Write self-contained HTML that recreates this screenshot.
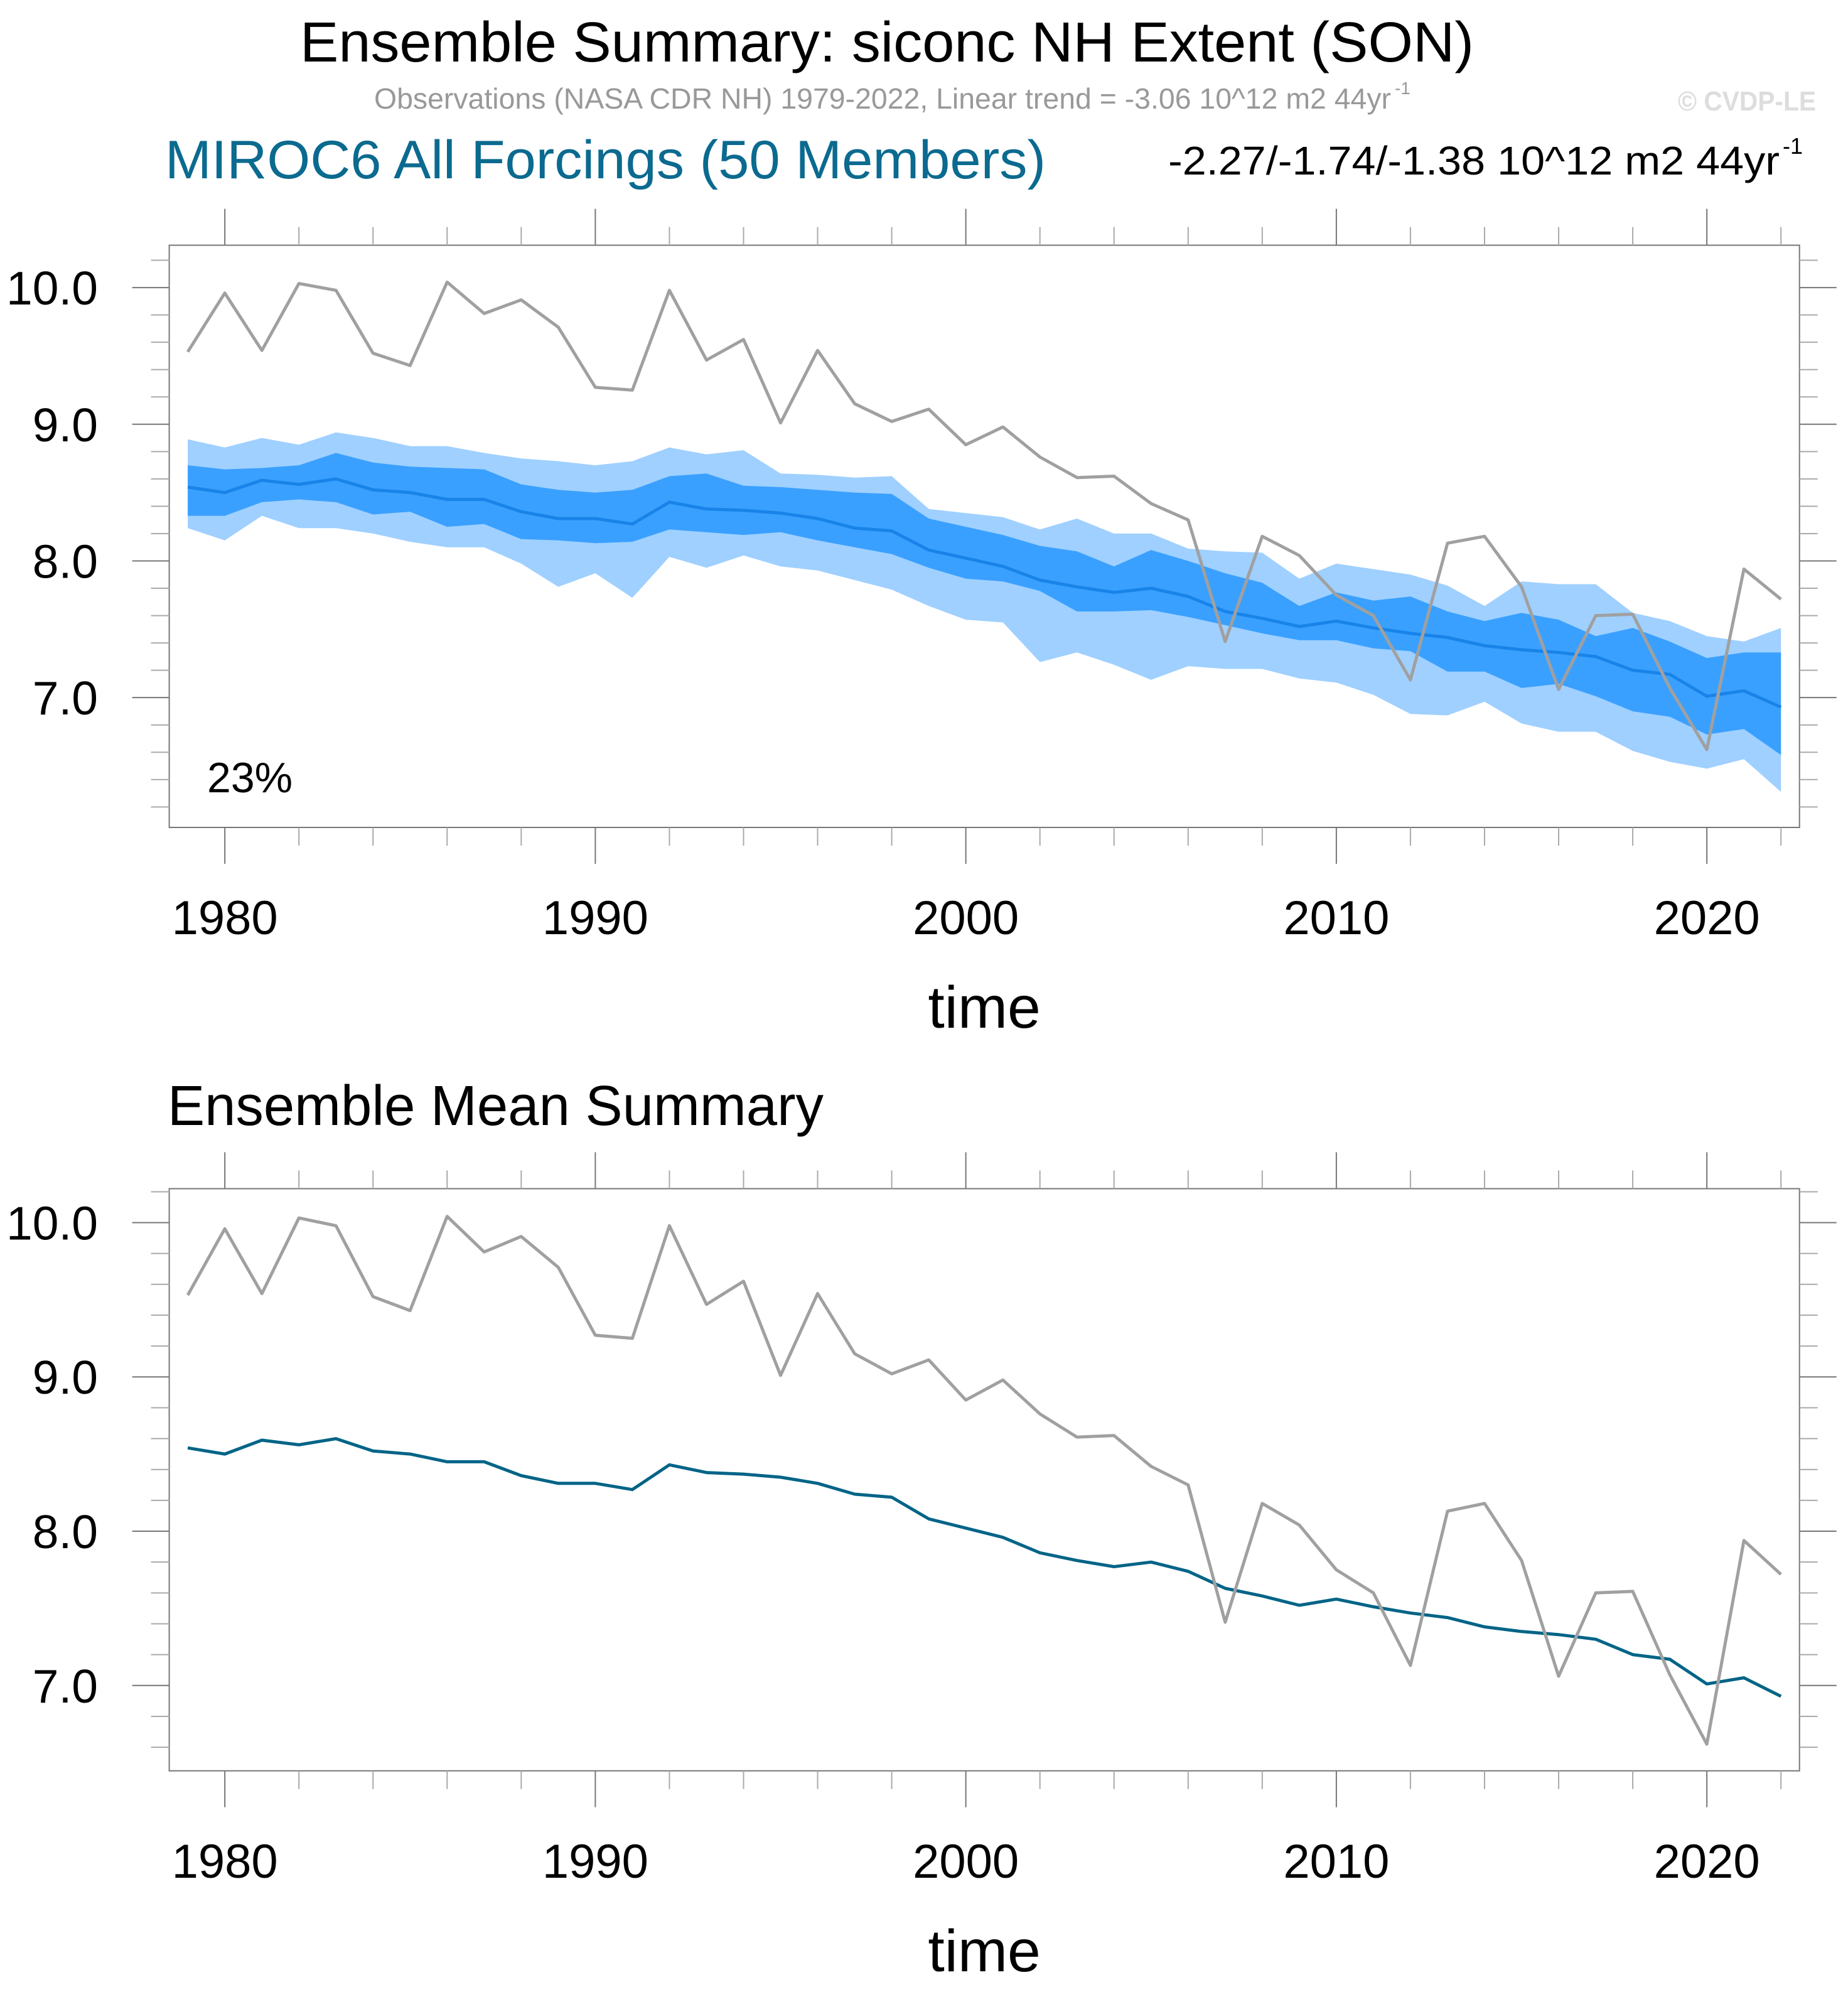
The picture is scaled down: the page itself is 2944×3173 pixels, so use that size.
<!DOCTYPE html>
<html><head><meta charset="utf-8">
<style>
html,body{margin:0;padding:0;background:#fff;}
svg{display:block;font-family:"Liberation Sans",Arial,sans-serif;}
</style></head>
<body>
<svg id="chart" width="2944" height="3173" viewBox="0 0 2944 3173" xmlns="http://www.w3.org/2000/svg">
<rect width="2944" height="3173" fill="#fff"/>
<text x="478" y="98" font-size="90" textLength="1870" lengthAdjust="spacingAndGlyphs">Ensemble Summary: siconc NH Extent (SON)</text>
<text x="596" y="173" font-size="46" fill="#999" textLength="1620" lengthAdjust="spacingAndGlyphs">Observations (NASA CDR NH) 1979-2022, Linear trend = -3.06 10^12 m2 44yr</text>
<text x="2222" y="150" font-size="28" fill="#999">-1</text>
<text x="2673" y="176" font-size="44" font-weight="bold" fill="#ddd" textLength="220" lengthAdjust="spacingAndGlyphs">© CVDP-LE</text>
<text x="263" y="284" font-size="86" fill="#0b6a8f" textLength="1403" lengthAdjust="spacingAndGlyphs">MIROC6 All Forcings (50 Members)</text>
<text x="1861" y="278" font-size="64" textLength="974" lengthAdjust="spacingAndGlyphs">-2.27/-1.74/-1.38 10^12 m2 44yr</text>
<text x="2840" y="245" font-size="36">-1</text>
<text x="267" y="1792" font-size="90" textLength="1045" lengthAdjust="spacingAndGlyphs">Ensemble Mean Summary</text>
<g id="top"></g>
<g id="bottom"></g>
</svg>
<script>
const years = [];
for (let y = 1979; y <= 2022; y++) years.push(y);
const obs = [9.53,9.96,9.54,10.03,9.98,9.52,9.43,10.04,9.81,9.91,9.71,9.27,9.25,9.98,9.47,9.62,9.01,9.54,9.15,9.02,9.11,8.85,8.98,8.76,8.61,8.62,8.42,8.30,7.41,8.18,8.04,7.75,7.60,7.13,8.13,8.18,7.81,7.06,7.60,7.61,7.07,6.62,7.94,7.72];
const ensMean = [8.54,8.50,8.59,8.56,8.60,8.52,8.50,8.45,8.45,8.36,8.31,8.31,8.27,8.43,8.38,8.37,8.35,8.31,8.24,8.22,8.08,8.02,7.96,7.86,7.81,7.77,7.80,7.74,7.63,7.58,7.52,7.56,7.51,7.47,7.44,7.38,7.35,7.33,7.30,7.20,7.17,7.01,7.05,6.93];
const lightUpper = [8.89,8.83,8.90,8.85,8.94,8.90,8.84,8.84,8.79,8.75,8.73,8.70,8.73,8.83,8.78,8.81,8.64,8.63,8.61,8.62,8.38,8.35,8.32,8.23,8.31,8.20,8.20,8.09,8.07,8.06,7.87,7.98,7.94,7.90,7.82,7.67,7.85,7.83,7.83,7.62,7.56,7.45,7.41,7.51];
const darkUpper = [8.70,8.67,8.68,8.70,8.79,8.72,8.69,8.68,8.67,8.56,8.52,8.50,8.52,8.62,8.64,8.55,8.54,8.52,8.50,8.49,8.31,8.25,8.19,8.11,8.07,7.96,8.08,8.00,7.91,7.84,7.67,7.77,7.71,7.74,7.63,7.56,7.62,7.57,7.45,7.51,7.41,7.29,7.33,7.33];
const darkLower = [8.33,8.33,8.43,8.45,8.43,8.34,8.36,8.25,8.27,8.16,8.15,8.13,8.14,8.23,8.21,8.19,8.21,8.15,8.10,8.05,7.95,7.87,7.85,7.78,7.63,7.63,7.64,7.59,7.53,7.47,7.42,7.42,7.36,7.34,7.19,7.19,7.07,7.10,7.01,6.90,6.86,6.73,6.77,6.58];
const lightLower = [8.24,8.15,8.33,8.24,8.24,8.20,8.14,8.10,8.10,7.98,7.81,7.91,7.73,8.03,7.95,8.04,7.96,7.93,7.86,7.79,7.67,7.57,7.55,7.26,7.33,7.24,7.13,7.23,7.21,7.21,7.14,7.11,7.02,6.88,6.87,6.97,6.81,6.75,6.75,6.61,6.53,6.48,6.55,6.31];
const xTickLabels = [1980,1990,2000,2010,2020];
const yTickLabels = ["7.0","8.0","9.0","10.0"];
const pctLabel = "23%";

const NS = "http://www.w3.org/2000/svg";
function mk(parent, tag, attrs) {
  const e = document.createElementNS(NS, tag);
  for (const k in attrs) e.setAttribute(k, attrs[k]);
  parent.appendChild(e);
  return e;
}
const X0 = 269.6, X1 = 2866.7, YR0 = 1978.5, YR1 = 2022.5;
const xs = v => X0 + (v - YR0) / (YR1 - YR0) * (X1 - X0);

function panel(g, top, bot, vmin, vmax, labelBase, timeBase, prefix, withBands) {
  const ys = v => bot - (v - vmin) / (vmax - vmin) * (bot - top);
  if (withBands) {
    const band = (up, lo, col, name) => {
      let d = "M" + years.map((y, i) => xs(y).toFixed(1) + "," + ys(up[i]).toFixed(1)).join("L");
      for (let i = years.length - 1; i >= 0; i--) d += "L" + xs(years[i]).toFixed(1) + "," + ys(lo[i]).toFixed(1);
      const p = mk(g, "path", {d: d + "Z", fill: col});
      
      
    };
    band(lightUpper, lightLower, "#9fd0ff", prefix + "outer-spread-band");
    band(darkUpper, darkLower, "#3aa0ff", prefix + "inner-spread-band");
  }
  const line = (arr, col, name) => {
    const p = mk(g, "polyline", {points: years.map((y, i) => xs(y).toFixed(1) + "," + ys(arr[i]).toFixed(1)).join(" "), fill: "none", stroke: col, "stroke-width": 5, "stroke-linejoin": "round"});
    
    
  };
  line(withBands ? ensMean : ensMean, withBands ? "#1883e8" : "#006487", prefix + "ensemble-mean-line");
  line(obs, "#a0a0a0", prefix + "observations-line");
  const fr = mk(g, "rect", {x: X0, y: top, width: X1 - X0, height: bot - top, fill: "none", stroke: "#777", "stroke-width": 2});
  
  
  // y ticks
  for (let k = Math.ceil(vmin * 5); k <= Math.floor(vmax * 5); k++) {
    const v = k / 5, y = ys(v), major = (k % 5 === 0), L = major ? 59 : 29;
    mk(g, "line", {x1: X0 - L, y1: y, x2: X0, y2: y, stroke: major ? "#777" : "#aaa", "stroke-width": 2});
    mk(g, "line", {x1: X1, y1: y, x2: X1 + L, y2: y, stroke: major ? "#777" : "#aaa", "stroke-width": 2});
  }
  yTickLabels.forEach(s => {
    const t = mk(g, "text", {x: 156, y: ys(parseFloat(s)) + 27, "font-size": 75, "text-anchor": "end"});
    t.textContent = s;
    
    
  });
  // x ticks
  for (let yr = 1980; yr <= 2022; yr += 2) {
    const x = xs(yr), major = (yr % 10 === 0), L = major ? 58 : 29;
    mk(g, "line", {x1: x, y1: top - L, x2: x, y2: top, stroke: major ? "#777" : "#aaa", "stroke-width": 2});
    mk(g, "line", {x1: x, y1: bot, x2: x, y2: bot + L, stroke: major ? "#777" : "#aaa", "stroke-width": 2});
  }
  xTickLabels.forEach(yr => {
    const t = mk(g, "text", {x: xs(yr), y: labelBase, "font-size": 76, "text-anchor": "middle"});
    t.textContent = yr;
    
    
  });
  const tt = mk(g, "text", {x: (X0 + X1) / 2, y: timeBase, "font-size": 95, "text-anchor": "middle"});
  tt.textContent = "time";
  
  
}
panel(document.getElementById("top"), 390.6, 1318, 6.05, 10.31, 1488, 1637, "top-", true);
panel(document.getElementById("bottom"), 1893.4, 2820.7, 6.447, 10.22, 2991, 3140, "bottom-", false);
const pt = mk(document.getElementById("top"), "text", {x: 330, y: 1262, "font-size": 68});
pt.textContent = pctLabel;


</script>
</body></html>
